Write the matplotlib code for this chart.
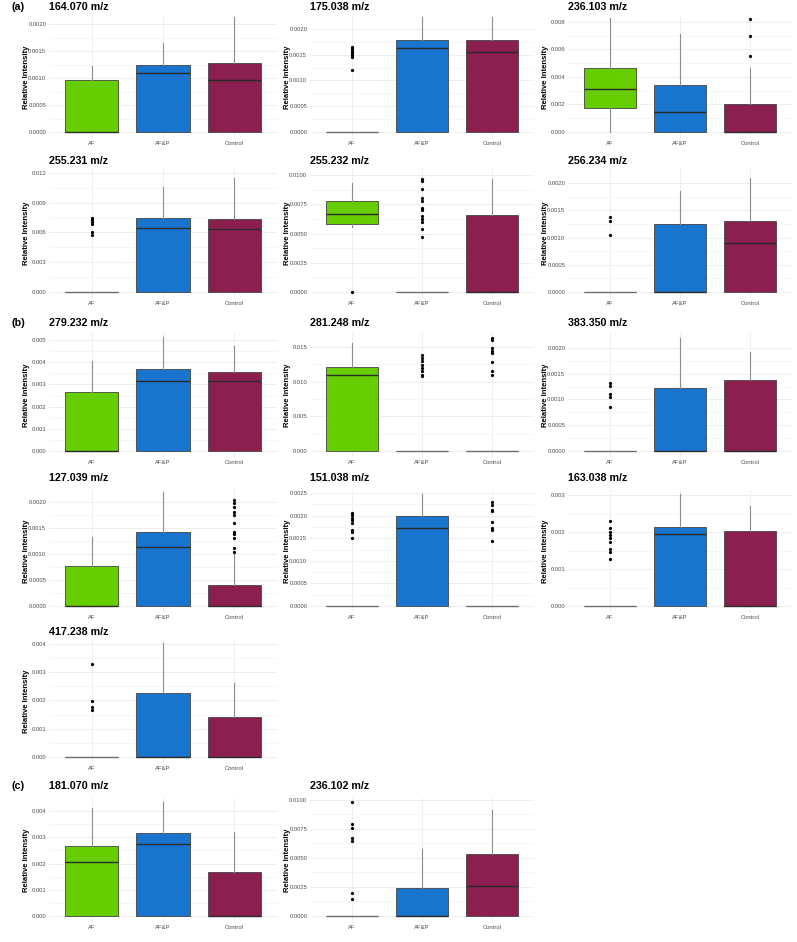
import matplotlib
matplotlib.use('Agg')
import matplotlib.pyplot as plt
import numpy as np

plt.rcParams['font.family'] = ['Liberation Sans', 'DejaVu Sans']

groups = ['AF', 'AF&P', 'Control']
colors = ['#66CD00', '#1874CD', '#8B1F50']

mz = ['164.070 m/z', '175.038 m/z', '236.103 m/z',
      '255.231 m/z', '255.232 m/z', '256.234 m/z',
      '279.232 m/z', '281.248 m/z', '383.350 m/z',
      '127.039 m/z', '151.038 m/z', '163.038 m/z',
      '417.238 m/z',
      '181.070 m/z', '236.102 m/z']

# box statistics, one row per panel: [AF, AF&P, Control]
q1 = [[0, 0, 0], [0, 0, 0], [0.00177, 0, 0],
      [0, 0, 0], [0.00581, 0, 0], [0, 0, 0],
      [0, 0, 0], [0, 0, 0], [0, 0, 0],
      [0, 0, 0], [0, 0, 0], [0, 0, 0],
      [0, 0, 0],
      [0, 0, 0], [0, 0, 0]]
med = [[0, 0.0011, 0.00096], [0, 0.00163, 0.00155], [0.0031, 0.00148, 0],
       [0, 0.00642, 0.00632], [0.00667, 0, 0], [0, 0, 0.0009],
       [0, 0.00317, 0.00314], [0.01095, 0, 0], [0, 0, 0],
       [0, 0.00113, 0], [0, 0.00172, 0], [0, 0.00195, 0],
       [0, 0, 0],
       [0.00207, 0.00273, 0], [0, 0, 0.00259]]
q3 = [[0.00096, 0.00124, 0.00127], [0, 0.00179, 0.00179], [0.00463, 0.00342, 0.00204],
      [0, 0.0075, 0.00739], [0.0078, 0, 0.00658], [0, 0.00125, 0.0013],
      [0.00264, 0.00369, 0.00354], [0.01214, 0, 0], [0, 0.00122, 0.00137],
      [0.00077, 0.00143, 0.0004], [0, 0.00199, 0], [0, 0.00214, 0.00203],
      [0, 0.00225, 0.00143],
      [0.00268, 0.00315, 0.00169], [0, 0.00239, 0.00532]]
whi_hi = [[0.00122, 0.00165, 0.0023], [0, 0.0024, 0.0024], [0.0083, 0.0071, 0.00468],
          [0, 0.01056, 0.01153], [0.00934, 0, 0.00966], [0, 0.00186, 0.00209],
          [0.00405, 0.00512, 0.00473], [0.01552, 0, 0], [0, 0.0022, 0.00193],
          [0.00133, 0.00219, 0.00106], [0, 0.00249, 0], [0, 0.00302, 0.0027],
          [0, 0.00402, 0.00261],
          [0.0041, 0.00435, 0.00319], [0, 0.00578, 0.00914]]
whi_lo = [[0, 0, 0], [0, 0, 0], [0, 0, 0],
          [0, 0, 0], [0.00553, 0, 0], [0, 0, 0],
          [0, 0, 0], [0, 0, 0], [0, 0, 0],
          [0, 0, 0], [0, 0, 0], [0, 0, 0],
          [0, 0, 0],
          [0, 0, 0], [0, 0, 0]]
outliers = [
    [[], [], []],
    [[0.00121, 0.00146, 0.0015, 0.00153, 0.00156, 0.00159, 0.00162, 0.00164], [], []],
    [[], [], [0.00553, 0.007, 0.0082]],
    [[0.0057, 0.006, 0.0069, 0.0071, 0.0073, 0.0075], [], []],
    [[0.0], [0.0047, 0.0054, 0.006, 0.0062, 0.0065, 0.007, 0.0072, 0.0078, 0.008, 0.0088, 0.0095, 0.0097], []],
    [[0.00104, 0.00131, 0.00137], [], []],
    [[], [], []],
    [[], [0.01076, 0.011, 0.01147, 0.01196, 0.01243, 0.0129, 0.01338, 0.01376],
     [0.0109, 0.01147, 0.01281, 0.0141, 0.01443, 0.01481, 0.016, 0.01633]],
    [[0.00086, 0.00104, 0.0011, 0.00127, 0.00131], [], []],
    [[], [], [0.00104, 0.00111, 0.0013, 0.00138, 0.00143, 0.00159, 0.00175, 0.00181, 0.00191, 0.00198, 0.00203]],
    [[0.00151, 0.00164, 0.00168, 0.00183, 0.0019, 0.00196, 0.00201, 0.00206], [],
     [0.00144, 0.00168, 0.00172, 0.00187, 0.0021, 0.00212, 0.00223, 0.00231]],
    [[0.00126, 0.00147, 0.00153, 0.00174, 0.00185, 0.00192, 0.00201, 0.0021, 0.0023], [], []],
    [[0.00166, 0.00178, 0.00198, 0.00328], [], []],
    [[], [], []],
    [[0.00147, 0.00196, 0.00647, 0.0067, 0.00761, 0.0079, 0.00985], [], []],
]

# y axis: tick step, decimals, value at top of panel
ystep = [0.0005, 0.0005, 0.002, 0.003, 0.0025, 0.0005, 0.001, 0.005, 0.0005,
         0.0005, 0.0005, 0.001, 0.001, 0.001, 0.0025]
ydec = [4, 4, 3, 3, 4, 4, 3, 3, 4, 4, 4, 3, 3, 3, 4]
ytop = [0.00213, 0.00223, 0.00836, 0.0125, 0.0106, 0.00228, 0.00532, 0.0170, 0.00229,
        0.00223, 0.00257, 0.00314, 0.00414, 0.0045, 0.01017]

# layout in pixels
W, H = 797, 942
cols = [(49, 277), (310, 534), (568, 792)]
rows = [(17, 132, 7), (168, 292, 161), (333, 451, 323), (490, 606, 478), (640, 757, 632), (798, 916, 786)]
cells = [(0, 0), (0, 1), (0, 2), (1, 0), (1, 1), (1, 2), (2, 0), (2, 1), (2, 2),
         (3, 0), (3, 1), (3, 2), (4, 0), (5, 0), (5, 1)]

fig = plt.figure(figsize=(W / 100, H / 100), dpi=100)
fig.patch.set_facecolor('white')

for i in range(len(mz)):
    r, c = cells[i]
    top, zero, ty = rows[r]
    left, right = cols[c]
    bot = zero + 6
    ax = fig.add_axes([left / W, 1 - bot / H, (right - left) / W, (bot - top) / H])

    stats = []
    for g in range(3):
        stats.append({'med': med[i][g], 'q1': q1[i][g], 'q3': q3[i][g],
                      'whislo': whi_lo[i][g], 'whishi': whi_hi[i][g],
                      'fliers': outliers[i][g]})
    bp = ax.bxp(stats, positions=[1, 2, 3], widths=0.75, patch_artist=True, showcaps=False,
                boxprops=dict(edgecolor='#444444', linewidth=0.6),
                medianprops=dict(color='#2a2a2a', linewidth=1.0),
                whiskerprops=dict(color='#8c8c8c', linewidth=0.8),
                flierprops=dict(marker='o', markersize=1.3, markerfacecolor='black',
                                markeredgecolor='black', linestyle='none'),
                zorder=3)
    for patch, col in zip(bp['boxes'], colors):
        patch.set_facecolor(col)
    # flat boxes (all zero) show as a grey line
    for g in range(3):
        if q3[i][g] == 0:
            bp['medians'][g].set_color('#6e6e6e')

    lo = -ytop[i] * (bot - zero) / (zero - top)
    ax.set_ylim(lo, ytop[i])
    ax.set_xlim(0.4, 3.6)
    ticks = np.arange(0, ytop[i] + 1e-9, ystep[i])
    ax.set_yticks(ticks)
    ax.set_yticklabels([('%.' + str(ydec[i]) + 'f') % t for t in ticks])
    ax.set_yticks(ticks[:-1] + ystep[i] / 2, minor=True)
    ax.set_xticks([1, 2, 3])
    ax.set_xticklabels(groups)
    ax.tick_params(axis='both', length=0, labelsize=4.2, labelcolor='#4d4d4d', pad=2)
    ax.tick_params(axis='y', which='minor', length=0)
    ax.grid(True, which='major', color='#ebebeb', linewidth=0.6, zorder=0)
    ax.grid(True, which='minor', axis='y', color='#f3f3f3', linewidth=0.5, zorder=0)
    ax.set_axisbelow(True)
    for s in ax.spines.values():
        s.set_visible(False)
    ax.set_ylabel('Relative Intensity', fontsize=5.6, fontweight='bold')
    ax.yaxis.set_label_coords(-19 / (right - left), 0.5)
    fig.text(left / W, 1 - ty / H, mz[i], fontsize=7.7, fontweight='bold', ha='left', va='center')

fig.text(12 / W, 1 - 7 / H, '(a)', fontsize=7.7, fontweight='bold', ha='left', va='center')
fig.text(12 / W, 1 - 323 / H, '(b)', fontsize=7.7, fontweight='bold', ha='left', va='center')
fig.text(12 / W, 1 - 786 / H, '(c)', fontsize=7.7, fontweight='bold', ha='left', va='center')

fig.savefig('out.png', dpi=100, facecolor='white')
